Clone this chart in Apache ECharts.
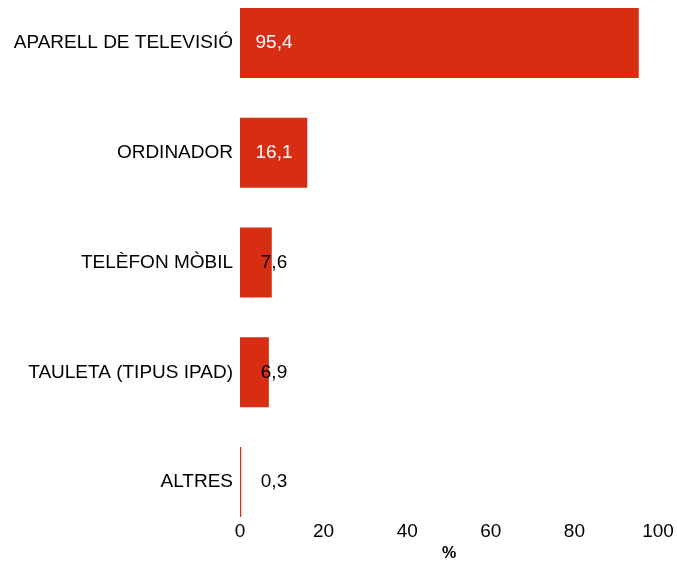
<!DOCTYPE html>
<html>
<head>
<meta charset="utf-8">
<script src="https://cdn.jsdelivr.net/npm/echarts@6/dist/echarts.min.js"></script>
<style>
  html, body { margin: 0; padding: 0; background: #fff; overflow: hidden; }
  /* canvas starts a little above the page so the first band can reach past the top edge */
  #chart { width: 677px; height: 579px; margin-top: -12px; }
</style>
</head>
<body>
<div id="chart"></div>
<script>
// categories and values (percent)
var categories = ['APARELL DE TELEVISIÓ', 'ORDINADOR', 'TELÈFON MÒBIL', 'TAULETA (TIPUS IPAD)', 'ALTRES'];
var values = [95.4, 16.1, 7.6, 6.9, 0.3];
var labelColors = ['#ffffff', '#ffffff', '#000000', '#000000', '#000000'];
var xTicks = [0, 20, 40, 60, 80, 100];

var chart = echarts.init(document.getElementById('chart'));

var option = {
  animation: false,
  grid: { left: 240, right: 19, top: 0, bottom: 23 },
  xAxis: {
    type: 'value',
    min: xTicks[0],
    max: xTicks[xTicks.length - 1],
    interval: 20,
    name: '%',
    nameLocation: 'middle',
    nameGap: 9,
    nameTextStyle: { fontFamily: 'Liberation Sans', fontSize: 16, fontWeight: 'bold', color: '#000' },
    axisLine: { show: false },
    axisTick: { show: false },
    splitLine: { show: false },
    axisLabel: { margin: -15, fontFamily: 'Liberation Sans', fontSize: 19, color: '#000' }
  },
  yAxis: {
    type: 'category',
    inverse: true,
    data: categories,
    axisLine: { show: false },
    axisTick: { show: false },
    axisLabel: { margin: 7, fontFamily: 'Liberation Sans', fontSize: 19, color: '#000' }
  },
  series: [{
    type: 'bar',
    barWidth: 70,
    data: values.map(function (v, i) {
      return {
        value: v,
        label: { color: labelColors[i] }
      };
    }),
    itemStyle: { color: '#d62d13' },
    label: {
      show: true,
      position: [34, '50%'],
      align: 'center',
      verticalAlign: 'middle',
      fontFamily: 'Liberation Sans',
      fontSize: 19,
      formatter: function (p) { return String(p.value).replace('.', ','); }
    }
  }]
};

chart.setOption(option);
</script>
</body>
</html>
